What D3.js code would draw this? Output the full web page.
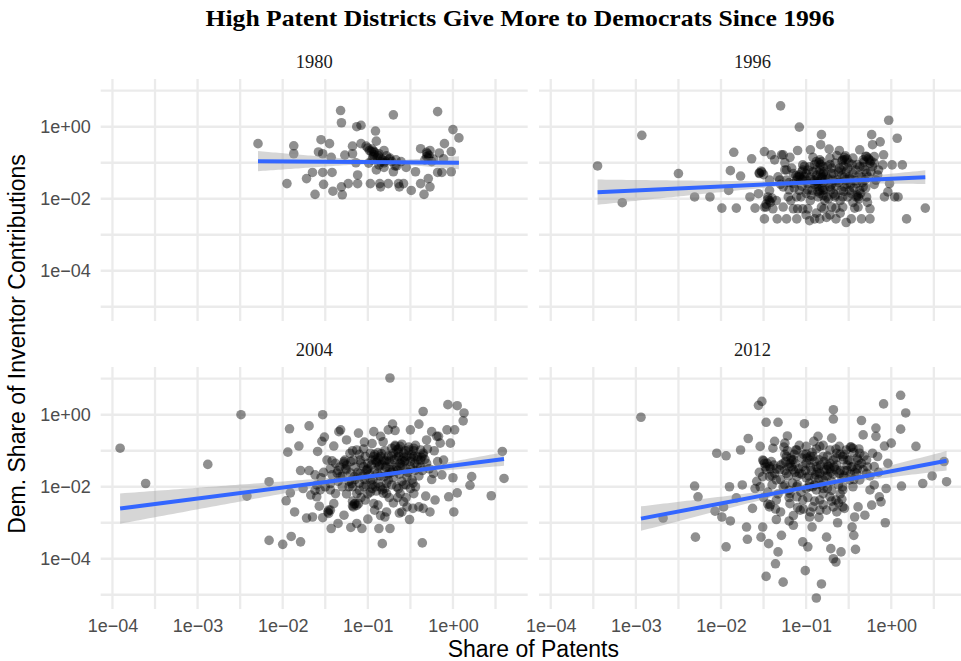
<!DOCTYPE html>
<html>
<head>
<meta charset="utf-8">
<script src="https://cdn.jsdelivr.net/npm/d3@7"></script>
<style>
  body { margin: 0; background: #fff; }
  svg { display: block; }
</style>
</head>
<body>
<svg id="chart" width="961" height="661"></svg>
<script>
// Congressional districts by year: [log10(share of patents), log10(Democratic share of inventor contributions)]
const years = ["1980", "1996", "2004", "2012"];

const logPoints1980 = [
  [-2.29,-0.47],[-1.87,-0.53],[-1.87,-0.75],[-1.95,-1.58],[-1.72,-1.44],[-1.65,-1.27],[-1.62,-1.88],[-1.58,-0.70],
  [-1.55,-0.36],[-1.53,-0.75],[-1.53,-1.27],[-1.52,-1.60],[-1.45,-0.47],[-1.43,-0.85],[-1.42,-1.27],[-1.41,-1.79],
  [-1.32,0.45],[-1.31,0.11],[-1.31,-1.67],[-1.30,-1.89],[-1.27,-0.79],[-1.23,-1.58],[-1.18,-0.54],[-1.18,-0.75],
  [-1.14,-1.00],[-1.13,0.00],[-1.08,0.04],[-1.12,-1.34],[-1.12,-1.58],[-1.08,-0.47],[-1.02,-0.54],[-0.97,-1.58],
  [-0.98,-0.66],[-0.95,-0.92],[-0.91,-0.12],[-0.90,-0.40],[-0.93,-0.78],[-0.90,-1.20],[-0.86,-1.58],[-0.85,-1.67],
  [-0.81,-0.66],[-0.81,-1.00],[-0.76,-1.58],[-0.74,-0.87],[-0.70,0.33],[-0.70,-1.25],[-0.68,-1.09],[-0.64,-1.58],
  [-0.63,-1.67],[-0.61,-0.97],[-0.58,-1.58],[-0.55,-1.13],[-0.49,-1.77],[-0.44,-1.25],[-0.38,-0.61],[-0.38,-1.58],
  [-0.34,-1.88],[-0.29,-1.44],[-0.27,-0.66],[-0.31,-0.83],[-0.27,-1.67],[-0.25,-0.97],[-0.18,0.42],[-0.16,-0.73],
  [-0.18,-1.27],[-0.13,-1.27],[-0.10,-0.47],[-0.11,-0.89],[-0.02,-0.69],[-0.02,-1.25],[0.00,-0.08],[0.07,-0.31],
  [-1.00,-0.59],[-0.96,-0.69],[-0.94,-0.83],[-0.89,-0.85],[-0.87,-0.75],[-0.83,-0.92],[-0.78,-0.81],[-0.72,-0.97],
  [-0.67,-0.92],[-0.87,-1.06],[-0.99,-1.01],[-0.81,-1.13],[-0.66,-1.09],[-0.31,-0.71],[-0.33,-0.92],[-0.29,-0.87],
  [-0.23,-0.90],[-0.95,-0.62],[-0.92,-0.72],[-0.88,-0.80],[-0.93,-0.68],[-0.85,-0.88],[-0.30,-0.75],[-0.28,-0.80],
  [-0.80,-0.95],[-0.75,-0.90],[-0.85,-0.98]
];

const logPoints1996 = [
  [-3.45,-1.09],[-3.16,-2.11],[-2.93,-0.24],[-2.50,-1.30],[-2.31,-1.95],[-2.13,-1.95],[-1.99,-2.26],[-1.91,-1.77],
  [-1.89,-1.22],[-1.85,-0.71],[-1.82,-2.26],[-1.77,-1.37],[-1.66,-1.95],[-1.64,-0.89],[-1.60,-2.26],[-1.56,-1.86],
  [-1.55,-1.28],[-1.49,-0.69],[-1.49,-2.56],[-1.47,-2.23],[-1.45,-1.95],[-1.43,-1.48],[-1.41,-0.78],[-1.39,-2.28],
  [-1.34,-2.56],[-1.33,-1.39],[-1.30,0.58],[-1.29,-0.78],[-1.27,-1.67],[-1.25,-1.20],[-1.23,-2.56],[-1.21,-1.95],
  [-1.19,-0.85],[-1.17,-1.15],[-1.15,-2.28],[-1.11,-2.56],[-1.10,-0.66],[-1.08,-1.39],[-1.08,-0.01],[-1.06,-1.95],
  [-1.04,-1.06],[-1.04,-2.28],[-1.00,-1.48],[-0.96,-2.61],[-0.95,-0.64],[-0.93,-1.77],[-0.90,-2.56],[-0.88,-1.20],
  [-0.86,-1.95],[-0.84,-0.92],[-0.83,-0.50],[-0.82,-0.22],[-0.81,-1.39],[-0.80,-1.77],[-0.79,-2.28],[-0.76,-2.52],
  [-0.73,-0.62],[-0.72,-0.87],[-0.70,-1.15],[-0.68,-1.48],[-0.66,-1.95],[-0.65,-2.26],[-0.65,-2.56],[-0.61,-0.66],
  [-0.59,-1.20],[-0.57,-0.92],[-0.55,-1.67],[-0.53,-2.66],[-0.51,-1.95],[-0.49,-1.39],[-0.47,-2.56],[-0.45,-0.87],
  [-0.43,-2.26],[-0.41,-1.58],[-0.39,-1.95],[-0.37,-0.64],[-0.35,-2.56],[-0.33,-1.11],[-0.31,-1.48],[-0.29,-0.83],
  [-0.25,-2.28],[-0.25,-2.56],[-0.23,-0.22],[-0.22,-0.50],[-0.20,-0.83],[-0.18,-1.48],[-0.16,-1.34],[-0.13,-0.42],
  [-0.10,-1.06],[-0.09,-0.78],[-0.08,-1.95],[-0.04,-1.81],[-0.03,0.18],[-0.02,-1.58],[0.01,-1.06],[0.04,-1.95],
  [0.07,-0.32],[0.08,-1.95],[0.13,-1.06],[0.18,-2.56],[0.40,-2.26],
  [-1.08,-1.34],[-1.04,-1.48],[-0.98,-1.58],[-0.92,-1.48],[-0.88,-1.67],[-0.84,-1.77],[-0.82,-0.97],[-0.80,-1.11],
  [-0.78,-1.48],[-0.76,-1.95],[-0.72,-1.67],[-0.70,-1.30],[-0.66,-1.01],[-0.63,-1.48],[-0.59,-1.77],[-0.55,-0.92],
  [-0.53,-1.48],[-0.49,-1.77],[-0.45,-1.30],[-0.41,-1.95],[-0.37,-1.11],[-0.33,-1.67],[-0.29,-1.30],[-0.25,-1.01],
  [-0.22,-1.11],[-0.33,-0.92],[-0.88,-0.97],[-0.96,-1.11],[-1.04,-1.20],[-1.11,-1.48],[-1.15,-1.58],[-1.23,-1.48],
  [-1.31,-1.48],[-1.43,-1.77],[-1.49,-2.23],[-1.43,-2.05],[-1.35,-2.05],[-1.27,-2.23],[-1.10,-2.28],[-0.98,-2.28],
  [-0.84,-2.56],[-0.82,-2.23],[-0.70,-2.23],[-0.57,-2.23],[-0.39,-2.23],[-0.37,-1.77],[-0.29,-1.95],[-0.26,-0.92],
  [-0.20,-1.01],[-0.54,-0.81],[-0.84,-1.20],[-0.80,-1.91],[-0.86,-1.53],[-1.08,-1.77],[-1.11,-1.95],[-0.57,-1.95],
  [-0.51,-1.15],[-1.53,-1.23],[-1.37,-0.92],[-1.27,-0.78],[-1.23,-1.20],
  [-1.52,-1.26],[-1.55,-1.30],[-1.50,-1.33],[-1.45,-2.02],[-1.42,-2.10],[-1.47,-2.15],[-1.40,-1.98],[-1.10,-1.40],
  [-1.06,-1.45],[-1.12,-1.36],[-1.02,-1.38],[-0.85,-1.00],[-0.83,-1.05],[-0.80,-1.30],[-0.82,-1.42],[-0.86,-1.60],
  [-0.81,-1.70],[-0.78,-1.75],[-0.84,-1.85],[-0.79,-1.25],[-0.88,-1.35],[-0.55,-0.85],[-0.52,-0.90],[-0.58,-0.95],
  [-0.50,-1.00],[-0.40,-1.90],[-0.38,-2.00],[-0.36,-1.85],[-0.30,-0.82],[-0.27,-0.88],[-0.32,-0.98],[-0.24,-0.95],
  [-1.30,-1.60],[-1.20,-1.75],[-1.15,-1.30],[-1.00,-1.85],[-0.95,-2.05],[-0.90,-1.50],[-0.75,-1.10],[-0.70,-1.60],
  [-0.68,-1.85],[-0.62,-1.25],[-0.60,-2.05],[-0.55,-1.40],[-0.48,-1.60],[-0.45,-2.10],[-0.42,-1.20],[-0.35,-1.40],
  [-0.30,-1.70],[-0.28,-2.10],[-0.20,-1.60],[-0.15,-1.20],[-1.25,-1.00],[-1.18,-2.05],[-1.05,-1.65],[-0.98,-1.20],
  [-0.92,-0.85],[-0.74,-2.00],[-0.64,-0.80],[-0.46,-1.05],[-0.88,-2.40],[-0.72,-2.45],[-1.00,-2.45],[-0.60,-2.40],
  [-1.05,-1.25],[-1.00,-1.30],[-0.95,-1.40],[-0.92,-1.25],[-0.90,-1.60],[-0.87,-1.45],[-0.83,-1.30],[-0.80,-1.55],
  [-0.77,-1.35],[-0.74,-1.45],[-0.71,-1.75],[-0.68,-1.30],[-0.65,-1.65],[-0.62,-1.55],[-0.58,-1.35],[-0.56,-1.80],
  [-0.52,-1.60],[-0.48,-1.45],[-0.44,-1.70],[-0.42,-1.50],[-0.38,-1.35],[-0.34,-1.55],[-0.31,-1.20],[-0.27,-1.40],
  [-0.24,-1.25],[-0.98,-1.75],[-0.94,-1.90],[-0.86,-1.80],[-0.78,-2.05],[-0.66,-1.90],[-0.61,-1.15],[-0.53,-1.25],
  [-0.47,-1.85],[-1.02,-1.10],[-0.90,-1.05],[-0.72,-1.05],[-0.56,-1.10],[-0.40,-1.05],[-1.20,-1.55],[-1.14,-1.70]
];

const logPoints2004 = [
  [-3.91,-0.93],[-3.61,-1.91],[-2.88,-1.38],[-2.49,0.00],[-2.42,-2.26],[-2.16,-1.86],[-2.16,-3.49],[-2.00,-3.60],
  [-1.96,-2.39],[-1.94,-1.04],[-1.92,-0.39],[-1.91,-2.17],[-1.90,-3.38],[-1.86,-2.70],[-1.81,-0.87],[-1.79,-1.55],
  [-1.79,-3.53],[-1.76,-2.05],[-1.72,-2.87],[-1.69,-0.31],[-1.69,-1.55],[-1.67,-2.23],[-1.65,-2.84],[-1.62,-1.67],
  [-1.60,-2.28],[-1.59,-1.02],[-1.57,-2.54],[-1.54,-0.74],[-1.53,0.00],[-1.53,-2.86],[-1.51,-0.62],[-1.48,-1.26],
  [-1.46,-2.74],[-1.44,-2.09],[-1.43,-3.16],[-1.42,-1.67],[-1.40,-0.87],[-1.35,-3.02],[-1.34,-0.47],[-1.32,-0.42],
  [-1.28,-2.79],[-1.27,-1.26],[-1.25,-0.70],[-1.22,-2.00],[-1.20,-3.13],[-1.18,-2.53],[-1.16,-1.72],[-1.13,-3.02],
  [-1.11,-0.51],[-1.09,-1.26],[-1.07,-3.16],[-1.04,-0.76],[-1.03,-2.37],[-1.01,-1.53],[-0.97,-1.07],[-0.95,-1.95],
  [-0.93,-0.47],[-0.91,-1.26],[-0.88,-2.51],[-0.87,-3.16],[-0.85,-0.60],[-0.83,-3.58],[-0.81,-1.72],[-0.80,-2.84],
  [-0.78,-2.19],[-0.76,-0.42],[-0.74,1.02],[-0.74,-3.16],[-0.72,-0.93],[-0.71,-0.26],[-0.70,-1.53],[-0.68,-0.44],
  [-0.66,-2.00],[-0.63,-2.73],[-0.62,-0.88],[-0.60,-1.26],[-0.58,-2.42],[-0.54,-1.72],[-0.51,-2.91],[-0.50,-0.42],
  [-0.47,-2.60],[-0.46,-0.93],[-0.44,-2.00],[-0.40,-0.26],[-0.38,-1.26],[-0.36,-3.56],[-0.35,0.09],[-0.35,-2.60],
  [-0.32,-2.26],[-0.31,-0.70],[-0.27,-2.70],[-0.25,-0.47],[-0.23,-1.63],[-0.21,-2.37],[-0.17,-0.60],[-0.13,-1.67],
  [-0.11,-1.26],[-0.07,-0.42],[-0.06,0.28],[-0.05,-2.28],[-0.03,-0.79],[0.00,-1.75],[0.01,-2.70],[0.02,-0.42],
  [0.05,0.25],[0.05,-2.17],[0.12,-0.17],[0.13,0.05],[0.20,-1.96],[0.22,-1.72],[0.45,-2.25],[0.58,-1.02],[0.60,-1.77],
  [-1.56,-2.09],[-1.50,-2.00],[-1.44,-1.91],[-1.38,-2.19],[-1.32,-1.72],[-1.28,-1.35],[-1.25,-1.53],[-1.21,-1.07],
  [-1.19,-1.91],[-1.15,-2.47],[-1.13,-2.19],[-1.09,-1.63],[-1.05,-1.44],[-1.03,-1.16],[-1.00,-1.35],[-0.97,-1.81],
  [-0.95,-1.26],[-0.93,-1.16],[-0.91,-2.00],[-0.89,-1.63],[-0.87,-1.44],[-0.85,-1.16],[-0.83,-2.09],[-0.81,-1.26],
  [-0.78,-1.26],[-0.76,-1.81],[-0.74,-1.53],[-0.70,-1.07],[-0.68,-0.88],[-0.66,-0.98],[-0.64,-1.16],[-0.62,-1.44],
  [-0.58,-1.07],[-0.56,-1.26],[-0.52,-0.98],[-0.50,-1.44],[-0.48,-1.81],[-0.46,-1.16],[-0.42,-1.16],[-0.38,-0.98],
  [-0.35,-1.07],[-0.31,-1.35],[-0.46,-2.19],[-0.62,-2.19],[-0.78,-1.91],[-0.93,-2.47],[-1.05,-2.00],[-1.17,-1.26],
  [-1.13,-0.98],[-1.40,-2.47],[-1.46,-2.65],[-1.17,-2.56],[-1.11,-2.47],[-0.54,-2.56],[-0.40,-2.56],[-0.60,-2.70],
  [-0.19,-0.60],[-0.15,-0.79],
  [-1.42,-1.28],[-1.38,-1.35],[-1.33,-1.45],[-1.28,-1.30],[-1.26,-1.50],[-1.44,-1.50],[-1.36,-1.62],[-0.92,-1.10],
  [-0.88,-1.20],[-0.84,-1.08],[-0.80,-1.30],[-0.76,-1.15],[-0.90,-1.33],[-0.86,-1.40],[-0.68,-0.85],[-0.64,-0.95],
  [-0.60,-0.82],[-0.56,-1.00],[-0.52,-0.90],[-0.48,-1.10],[-0.44,-0.85],[-0.66,-1.20],[-0.58,-1.18],[-1.16,-2.48],
  [-1.13,-2.52],[-1.18,-2.40],[-1.47,-2.70],[-1.44,-2.65],[-0.95,-2.05],[-0.90,-2.12],[-0.85,-2.00],[-0.82,-2.18],
  [-0.60,-1.85],[-0.55,-1.95],[-0.50,-2.05],[-0.47,-1.90],[-0.37,-1.18],[-0.33,-1.24],[-0.35,-1.12],[-1.20,-1.62],
  [-1.15,-1.80],[-1.10,-1.90],[-1.06,-1.70],[-1.02,-1.55],[-0.98,-1.65],[-0.94,-1.80],[-0.80,-1.55],[-0.76,-1.65],
  [-0.72,-1.40],[-0.70,-1.75],[-0.65,-1.55],[-0.62,-1.35],[-0.55,-1.50],[-0.50,-1.30],[-0.45,-1.55],[-0.42,-1.40],
  [-0.40,-1.70],[-0.36,-1.55],[-1.30,-2.00],[-1.25,-2.20],[-1.35,-1.85],[-1.22,-1.85],[-1.08,-2.30],[-1.00,-2.20],
  [-0.75,-2.30],[-0.70,-2.45],[-0.65,-2.30],[-0.55,-2.30],[-1.52,-1.60],[-1.55,-1.75],[-1.60,-1.95],[-1.62,-2.10],
  [-0.28,-1.50],[-0.25,-1.80],[-0.22,-1.00],[-0.30,-0.95],[-0.18,-1.30],[-1.10,-1.10],[-1.05,-0.95],[-1.18,-1.00],
  [-0.95,-0.80],[-0.82,-0.75],[-0.92,-2.65],[-0.85,-2.80],[-0.78,-2.70],[-1.00,-2.90],
  [-1.25,-1.40],[-1.20,-1.30],[-1.15,-1.45],[-1.12,-1.60],[-1.08,-1.35],[-1.04,-1.80],[-1.00,-1.50],[-0.96,-1.40],
  [-0.92,-1.55],[-0.89,-1.30],[-0.86,-1.70],[-0.83,-1.40],[-0.79,-1.45],[-0.75,-1.30],[-0.72,-1.60],[-0.69,-1.25],
  [-0.66,-1.45],[-0.63,-1.65],[-0.60,-1.40],[-0.57,-1.30],[-0.53,-1.60],[-0.49,-1.20],[-0.45,-1.35],[-0.41,-1.25],
  [-0.38,-1.45],[-1.18,-2.00],[-1.10,-2.10],[-1.02,-1.95],[-0.97,-2.15],[-0.88,-1.90],[-0.80,-2.05],[-0.72,-1.95],
  [-0.64,-2.05],[-0.58,-1.95],[-0.88,-1.05],[-0.80,-1.00],[-0.72,-1.15],[-0.64,-1.05],[-0.54,-1.15],[-0.46,-1.00],
  [-1.35,-1.55],[-1.30,-1.70]
];

const logPoints2012 = [
  [-2.94,-0.07],[-2.68,-2.87],[-2.31,-1.98],[-2.27,-2.28],[-2.30,-3.40],[-2.07,-2.68],[-2.05,-1.07],[-1.99,-2.84],
  [-1.97,-2.56],[-1.94,-1.14],[-1.94,-3.67],[-1.90,-2.00],[-1.89,-2.95],[-1.82,-2.31],[-1.77,-0.98],[-1.75,-1.95],
  [-1.70,-3.12],[-1.69,-3.46],[-1.68,-0.66],[-1.63,-2.60],[-1.60,-2.05],[-1.56,0.26],[-1.54,-0.88],[-1.53,-3.40],
  [-1.52,0.37],[-1.51,-3.12],[-1.49,-1.35],[-1.47,-4.49],[-1.47,-0.21],[-1.45,-2.48],[-1.44,-3.58],[-1.43,-1.72],
  [-1.41,-1.30],[-1.39,-0.93],[-1.37,-0.74],[-1.36,-4.14],[-1.35,-2.91],[-1.33,-0.21],[-1.33,-3.81],[-1.29,-3.35],
  [-1.27,-4.65],[-1.25,-0.79],[-1.23,-1.63],[-1.22,-0.59],[-1.19,-2.47],[-1.17,-1.26],[-1.15,-3.07],[-1.12,-0.98],
  [-1.11,-2.00],[-1.07,-2.65],[-1.04,-3.53],[-1.02,-0.25],[-1.01,-4.33],[-1.00,-1.09],[-0.98,-3.67],[-0.96,-2.84],
  [-0.93,-3.12],[-0.91,-0.74],[-0.89,-1.67],[-0.88,-5.09],[-0.86,-0.60],[-0.84,-2.37],[-0.82,-4.70],[-0.80,-1.16],
  [-0.76,-3.40],[-0.74,-1.44],[-0.71,-3.72],[-0.70,-0.65],[-0.68,-0.12],[-0.68,0.14],[-0.68,-4.00],[-0.65,-4.09],
  [-0.64,-1.07],[-0.63,-3.00],[-0.59,-3.81],[-0.57,-2.09],[-0.55,-2.60],[-0.51,-1.26],[-0.47,-0.90],[-0.46,-3.12],
  [-0.44,-3.35],[-0.43,-2.84],[-0.42,-3.74],[-0.39,-2.56],[-0.37,-1.07],[-0.35,-0.16],[-0.33,-0.56],[-0.31,-2.79],
  [-0.29,-1.63],[-0.25,-2.09],[-0.23,-2.51],[-0.20,-1.44],[-0.18,-0.37],[-0.18,-0.60],[-0.16,-1.16],[-0.14,-2.28],
  [-0.12,-2.42],[-0.09,0.30],[-0.08,-0.87],[-0.07,-3.00],[-0.06,-2.05],[-0.04,-1.35],[0.00,-0.79],[0.11,0.54],
  [0.11,-0.40],[0.12,-1.98],[0.17,0.05],[0.29,-0.88],[0.37,-1.91],[0.48,-1.70],[0.62,-1.30],[0.65,-1.86],
  [-1.51,-1.26],[-1.47,-1.53],[-1.43,-1.44],[-1.37,-1.63],[-1.35,-1.81],[-1.31,-1.53],[-1.27,-1.35],[-1.23,-1.16],
  [-1.19,-1.35],[-1.15,-1.53],[-1.11,-1.72],[-1.08,-1.63],[-1.04,-1.44],[-1.00,-1.35],[-0.96,-1.26],[-0.92,-1.16],
  [-0.88,-1.44],[-0.84,-1.63],[-0.80,-1.81],[-0.76,-1.53],[-0.72,-1.35],[-0.68,-1.26],[-0.65,-1.53],[-0.61,-1.63],
  [-0.57,-1.16],[-0.53,-0.98],[-0.49,-1.26],[-0.45,-1.44],[-0.41,-1.63],[-0.37,-1.81],[-0.96,-2.00],[-0.88,-2.09],
  [-0.80,-2.19],[-0.72,-2.28],[-0.65,-2.37],[-0.57,-2.00],[-0.49,-1.81],[-1.04,-2.37],[-1.11,-2.28],[-1.19,-2.19],
  [-1.27,-2.00],[-1.35,-2.37],[-1.43,-2.56],[-1.11,-0.98],[-1.00,-0.88],[-0.84,-0.88],[-0.72,-0.98],[-0.61,-0.88],
  [-0.45,-0.93],[-0.39,-1.26],[-0.33,-1.53],[-0.29,-1.26],[-0.22,-1.07],[-0.92,-2.56],[-0.84,-2.65],[-0.68,-2.56],
  [-0.57,-2.56],[-1.51,-1.72],[-1.54,-2.00],
  [-1.50,-1.28],[-1.46,-1.35],[-1.42,-1.50],[-1.38,-1.40],[-1.48,-1.45],[-1.26,-0.90],[-1.22,-1.00],[-1.18,-1.20],
  [-1.14,-1.10],[-1.20,-1.45],[-1.13,-1.60],[-1.24,-1.30],[-1.03,-1.10],[-0.99,-1.20],[-0.95,-1.45],[-0.90,-1.30],
  [-0.86,-1.50],[-0.93,-1.05],[-0.79,-1.30],[-0.75,-1.40],[-0.71,-1.60],[-0.67,-1.45],[-0.78,-1.70],[-0.48,-0.90],
  [-0.44,-1.05],[-0.40,-1.20],[-0.38,-0.95],[-1.42,-2.50],[-1.36,-2.62],[-1.30,-2.70],[-1.10,-2.58],[-1.03,-2.62],
  [-0.70,-2.40],[-0.62,-2.45],[-0.58,-2.35],[-1.00,-1.75],[-0.96,-1.90],[-0.92,-2.00],[-0.85,-1.80],[-0.82,-1.95],
  [-0.75,-2.05],[-0.70,-1.85],[-0.62,-1.95],[-0.58,-1.75],[-0.55,-1.55],[-0.52,-1.40],[-0.48,-1.65],[-0.44,-1.80],
  [-0.40,-1.50],[-0.35,-1.35],[-0.32,-1.15],[-0.28,-1.45],[-1.30,-1.80],[-1.25,-1.95],[-1.20,-2.10],[-1.16,-1.90],
  [-1.40,-1.95],[-1.45,-2.15],[-1.33,-2.20],[-1.06,-2.15],[-0.98,-2.30],[-0.90,-2.40],[-0.80,-2.50],[-0.76,-2.65],
  [-0.64,-2.70],[-0.60,-1.10],[-0.65,-0.95],[-0.56,-1.25],[-0.25,-1.70],[-0.20,-1.95],[-0.15,-1.60],[-1.55,-1.60],
  [-1.58,-1.85],[-1.50,-2.30],[-0.88,-0.95],[-0.80,-0.85],[-1.08,-0.85],[-0.95,-2.70],[-0.85,-2.85],[-1.15,-2.80],
  [-1.20,-2.95],
  [-1.35,-1.50],[-1.30,-1.40],[-1.25,-1.55],[-1.21,-1.70],[-1.17,-1.45],[-1.13,-1.35],[-1.09,-1.50],[-1.05,-1.65],
  [-1.01,-1.55],[-0.97,-1.70],[-0.94,-1.55],[-0.90,-1.75],[-0.87,-1.60],[-0.83,-1.40],[-0.79,-1.55],[-0.75,-1.70],
  [-0.72,-1.50],[-0.68,-1.65],[-0.64,-1.40],[-0.60,-1.55],[-0.56,-1.70],[-0.52,-1.55],[-0.47,-1.45],[-0.43,-1.60],
  [-0.38,-1.40],[-1.25,-1.10],[-1.15,-1.25],[-1.05,-1.20],[-0.95,-1.15],[-0.85,-1.25],[-0.75,-1.15],[-0.65,-1.20],
  [-0.55,-1.10],[-1.10,-1.95],[-1.00,-2.05],[-0.90,-1.95],[-0.80,-2.05],[-0.70,-2.10],[-0.60,-2.20],[-1.20,-2.30],
  [-0.45,-2.00],[-1.40,-1.70]
];

// Linear fit (log-log) per year: fitted log10 value at the smallest and largest x
const fitStartLogY = [-0.956, -1.817, -2.606, -2.885];
const fitEndLogY   = [-1.000, -1.400, -1.229, -1.277];
// 95% confidence band half-widths (decades) at the left end, right end and narrowest point
const bandLeft  = [0.28, 0.35, 0.42, 0.34];
const bandRight = [0.18, 0.19, 0.19, 0.27];
const bandMin   = [0.05, 0.05, 0.05, 0.06];

const xTickValues = [1e-4, 1e-3, 1e-2, 1e-1, 1];
const xTickLabels = ["1e\u221204", "1e\u221203", "1e\u221202", "1e\u221201", "1e+00"];
const yTickValues = [1, 1e-2, 1e-4];
const yTickLabels = ["1e+00", "1e\u221202", "1e\u221204"];

const pointSets = [logPoints1980, logPoints1996, logPoints2004, logPoints2012];

// ---- layout ----
const colX = [[100.7, 527.7], [539, 966]];
const rowY = [[79, 321], [367, 609]];
const sans = "'Liberation Sans', Arial, Helvetica, sans-serif";
const serif = "'Liberation Serif', 'Times New Roman', serif";

const svg = d3.select("#chart");

// shared log-scale domains with 5% expansion (in log space)
const all = pointSets.flat();
const expand = e => { const r = e[1] - e[0]; return [e[0] - 0.05 * r, e[1] + 0.05 * r]; };
const xLogDom = expand(d3.extent(all, d => d[0]));
const yLogDom = expand(d3.extent(all, d => d[1]));
const xDom = xLogDom.map(v => 10 ** v);
const yDom = yLogDom.map(v => 10 ** v);

const logSteps = (lo, hi, step) => {
  const out = [];
  for (let k = Math.ceil(lo / step); k * step <= hi; k++) out.push(10 ** (k * step));
  return out;
};
const xGrid = logSteps(xLogDom[0], xLogDom[1], 0.5);
const yGrid = logSteps(yLogDom[0], yLogDom[1], 1);

years.forEach((yr, i) => {
  const c = i % 2, r = Math.floor(i / 2);
  const x = d3.scaleLog().domain(xDom).range(colX[c]);
  const y = d3.scaleLog().domain(yDom).range([rowY[r][1], rowY[r][0]]);
  const g = svg.append("g");

  // grid
  g.append("g").selectAll("line").data(xGrid).join("line")
    .attr("x1", d => x(d)).attr("x2", d => x(d))
    .attr("y1", rowY[r][0]).attr("y2", rowY[r][1])
    .attr("stroke", "#ebebeb").attr("stroke-width", 2.3);
  g.append("g").selectAll("line").data(yGrid).join("line")
    .attr("y1", d => y(d)).attr("y2", d => y(d))
    .attr("x1", colX[c][0]).attr("x2", colX[c][1])
    .attr("stroke", "#ebebeb").attr("stroke-width", 2.3);

  // points
  const pts = pointSets[i];
  g.append("g").selectAll("circle").data(pts).join("circle")
    .attr("cx", d => x(10 ** d[0])).attr("cy", d => y(10 ** d[1]))
    .attr("r", 4.8)
    .attr("fill", "#000").attr("fill-opacity", 0.44);

  // smoother with confidence band
  const [x0, x1] = d3.extent(pts, d => d[0]);
  const y0 = fitStartLogY[i], y1 = fitEndLogY[i];
  const L = bandLeft[i], R = bandRight[i], a = bandMin[i];
  const ratio = Math.sqrt((L * L - a * a) / (R * R - a * a));
  const xc = (x0 + ratio * x1) / (1 + ratio);
  const b = Math.sqrt(L * L - a * a) / (xc - x0);
  const fitAt = t => y0 + (y1 - y0) * (t - x0) / (x1 - x0);
  const halfAt = t => Math.sqrt(a * a + b * b * (t - xc) * (t - xc));
  const samples = d3.range(0, 81).map(k => x0 + (x1 - x0) * k / 80);

  g.append("path").datum(samples)
    .attr("d", d3.area()
      .x(t => x(10 ** t))
      .y0(t => y(10 ** (fitAt(t) - halfAt(t))))
      .y1(t => y(10 ** (fitAt(t) + halfAt(t)))))
    .attr("fill", "#999999").attr("fill-opacity", 0.4);

  g.append("path").datum([x0, x1])
    .attr("d", d3.line().x(t => x(10 ** t)).y(t => y(10 ** fitAt(t))))
    .attr("stroke", "#3366FF").attr("stroke-width", 4).attr("fill", "none");

  // strip label
  svg.append("text")
    .attr("x", (colX[c][0] + colX[c][1]) / 2).attr("y", rowY[r][0] - 11)
    .attr("text-anchor", "middle")
    .attr("font-family", serif).attr("font-size", 18.5).attr("fill", "#1a1a1a")
    .text(yr);

  // axes
  if (c === 0) {
    const ay = svg.append("g").attr("transform", `translate(${colX[c][0]},0)`)
      .call(d3.axisLeft(y).tickValues(yTickValues)
        .tickFormat((d, j) => yTickLabels[j]).tickSize(0).tickPadding(10));
    ay.select(".domain").remove();
    ay.selectAll("text").attr("font-family", sans).attr("font-size", 18).attr("fill", "#4d4d4d");
  }
  if (r === 1) {
    const ax = svg.append("g").attr("transform", `translate(0,${rowY[r][1]})`)
      .call(d3.axisBottom(x).tickValues(xTickValues)
        .tickFormat((d, j) => xTickLabels[j]).tickSize(0).tickPadding(10));
    ax.select(".domain").remove();
    ax.selectAll("text").attr("font-family", sans).attr("font-size", 18).attr("fill", "#4d4d4d");
  }
});

// titles
svg.append("text")
  .attr("x", 520).attr("y", 26).attr("text-anchor", "middle")
  .attr("font-family", serif).attr("font-weight", "bold").attr("font-size", 23)
  .attr("textLength", 629).attr("lengthAdjust", "spacingAndGlyphs")
  .text("High Patent Districts Give More to Democrats Since 1996");

svg.append("text")
  .attr("x", (colX[0][0] + colX[1][1]) / 2).attr("y", 657).attr("text-anchor", "middle")
  .attr("font-family", sans).attr("font-size", 23).attr("fill", "#000")
  .text("Share of Patents");

svg.append("text")
  .attr("transform", `translate(25,${(rowY[0][0] + rowY[1][1]) / 2}) rotate(-90)`)
  .attr("text-anchor", "middle")
  .attr("font-family", sans).attr("font-size", 23).attr("fill", "#000")
  .text("Dem. Share of Inventor Contributions");
</script>
</body>
</html>
